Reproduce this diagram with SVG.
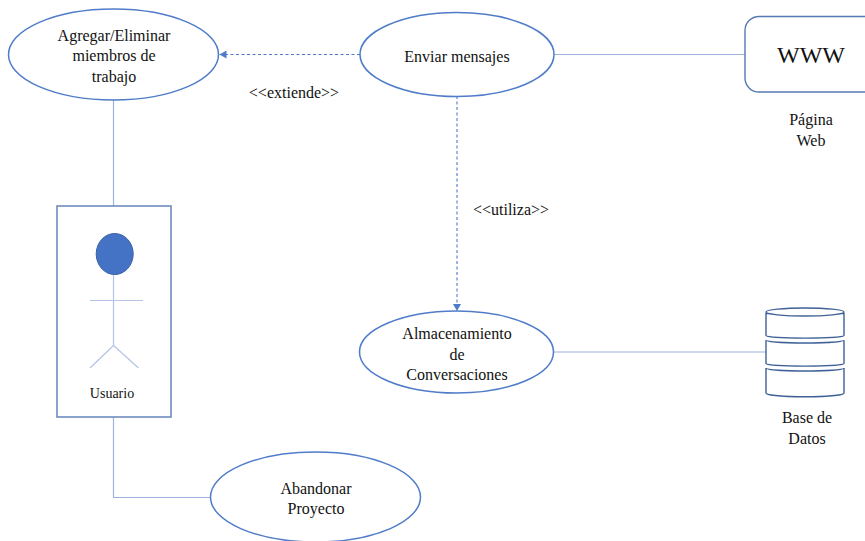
<svg xmlns="http://www.w3.org/2000/svg" width="865" height="541" viewBox="0 0 865 541">
<style>
text{font-family:"Liberation Serif","Times New Roman",serif;font-size:16px;fill:#111;text-anchor:middle}
.uc{fill:#fff;stroke:#4f7cc8;stroke-width:1.5}
.ln{fill:none;stroke:#9db4dc;stroke-width:1.2}
.dash{fill:none;stroke:#4f7cc8;stroke-width:1.1;stroke-dasharray:3 2.5}
.db{fill:#fff;stroke:#3f6197;stroke-width:1.4}
.thin{fill:none;stroke:#b3c4e6;stroke-width:1.2}
</style>
<defs><marker id="arr" markerUnits="userSpaceOnUse" markerWidth="8" markerHeight="8" refX="7" refY="4" orient="auto"><path d="M0,0L7,4L0,8Z" fill="#4f7cc8"/></marker></defs>
<g id="connectors">
<path class="ln" d="M113.500 100V206"/>
<path class="ln" d="M113.500 417V497.500H211"/>
<path class="ln" d="M554 54.500H745"/>
<path class="ln" d="M553 352H766"/>
<path class="dash" d="M360 54.500H219.500" marker-end="url(#arr)"/>
<path class="dash" d="M457 96V311" marker-end="url(#arr)"/>
</g>
<g id="uc-agregar"><ellipse class="uc" cx="113.500" cy="54.500" rx="105" ry="45.500"/><text x="114" y="41">Agregar/Eliminar</text><text x="114" y="61">miembros de</text><text x="114" y="82">trabajo</text></g>
<g id="uc-enviar"><ellipse class="uc" cx="457" cy="54.500" rx="97" ry="42"/><text x="457" y="62">Enviar mensajes</text></g>
<g id="uc-almacen"><ellipse class="uc" cx="456.500" cy="352" rx="97" ry="41"/><text x="457" y="339">Almacenamiento</text><text x="457" y="360">de</text><text x="457" y="380">Conversaciones</text></g>
<g id="uc-abandonar"><ellipse class="uc" cx="315.500" cy="497" rx="105" ry="45"/><text x="316" y="494">Abandonar</text><text x="316" y="514">Proyecto</text></g>
<g id="actor">
<rect x="57" y="206" width="114" height="211" fill="#fff" stroke="#6f8cbd" stroke-width="1.6"/>
<ellipse cx="114.700" cy="254" rx="18.500" ry="20.500" fill="#4472c4" stroke="#3a62a8"/>
<path class="thin" d="M113.500 275V345M90 300.500H143M114 345L90 368M113 345L138.500 368"/>
<text x="112" y="398" style="font-size:14px">Usuario</text>
</g>
<g id="web">
<path d="M865 16.500H759a14 14 0 0 0-14 14V78a14 14 0 0 0 14 14H865" fill="#fff" stroke="#5679b3" stroke-width="1.4"/>
<text x="811" y="63" style="font-size:24px">WWW</text>
<text x="811" y="125">Página</text><text x="811" y="146">Web</text>
</g>
<g id="database">
<path class="db" d="M766 313.500V335.500C766 339 844 339 844 335.500V313.500Z"/>
<path class="db" d="M766 340.500V363.500C766 367 844 367 844 363.500V340.500"/>
<path class="db" d="M766 368V393C766 398 844 398 844 393V368"/>
<path class="db" d="M766 340C766 344 844 344 844 340M766 368C766 372 844 372 844 368" fill="none"/>
<ellipse class="db" cx="805" cy="312" rx="39" ry="4"/>
<text x="807" y="423">Base de</text><text x="807" y="444">Datos</text>
</g>
<g id="labels"><text x="294" y="98">&lt;&lt;extiende&gt;&gt;</text><text x="511" y="215">&lt;&lt;utiliza&gt;&gt;</text></g>
</svg>
